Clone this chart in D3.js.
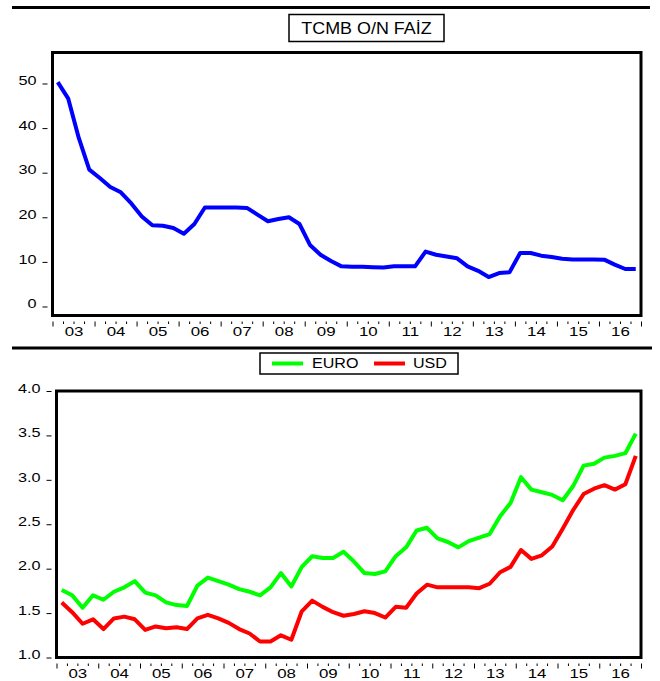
<!DOCTYPE html>
<html>
<head>
<meta charset="utf-8">
<script src="https://cdn.jsdelivr.net/npm/d3@7"></script>
<style>
  body { margin: 0; background: #fff; }
  text { font-family: "Liberation Sans", Arial, sans-serif; fill: #000; }
</style>
</head>
<body>
<div id="chart"></div>
<script>
// TCMB O/N faiz + EURO / USD kurlari, ceyreklik 2003Q1 - 2016Q4

const width = 660, height = 681;

const years = ["03","04","05","06","07","08","09","10","11","12","13","14","15","16"];

const faiz = [50.3, 46.6, 37.8, 30.7, 28.8, 26.8, 25.6, 23.1, 20.2, 18.2, 18.1, 17.6, 16.3, 18.5,
  22.2, 22.2, 22.2, 22.2, 22.1, 20.6, 19.1, 19.6, 20.0, 18.5, 13.8, 11.6, 10.2,
  9.0, 8.9, 8.9, 8.8, 8.75, 9.0, 9.0, 9.0, 12.3, 11.6, 11.2, 10.8, 9.0, 8.0, 6.6, 7.5, 7.7,
  12.0, 12.0, 11.4, 11.1, 10.7, 10.55, 10.55, 10.55, 10.5, 9.4, 8.4, 8.4];

const euro = [1.76, 1.70, 1.56, 1.70, 1.65, 1.74, 1.79, 1.86, 1.73, 1.70, 1.62, 1.59, 1.58, 1.81,
  1.90, 1.86, 1.82, 1.77, 1.74, 1.70, 1.79, 1.95, 1.80, 2.02, 2.14, 2.12,
  2.12, 2.19, 2.08, 1.95, 1.94, 1.97, 2.14, 2.24, 2.43, 2.46, 2.34, 2.30, 2.24, 2.31, 2.35,
  2.39, 2.59, 2.74, 3.03, 2.89, 2.86, 2.83, 2.77, 2.93, 3.16, 3.18, 3.25, 3.27, 3.30, 3.52];

const usd = [1.62, 1.51, 1.38, 1.43, 1.32, 1.44, 1.46, 1.43, 1.31, 1.35, 1.33, 1.34, 1.32, 1.44,
  1.48, 1.44, 1.39, 1.32, 1.27, 1.18, 1.18, 1.25, 1.20, 1.52, 1.64, 1.57,
  1.51, 1.47, 1.49, 1.52, 1.50, 1.45, 1.57, 1.56, 1.72, 1.82, 1.79, 1.79, 1.79, 1.79, 1.78,
  1.83, 1.96, 2.02, 2.21, 2.11, 2.15, 2.25, 2.45, 2.66, 2.84, 2.90, 2.94, 2.89, 2.95, 3.27];

const topTicks = [0, 10, 20, 30, 40, 50];
const botTicks = [1.0, 1.5, 2.0, 2.5, 3.0, 3.5, 4.0];

const svg = d3.select("#chart")
  .append("svg")
  .attr("width", width)
  .attr("height", height)
  .attr("viewBox", [0, 0, width, height]);

// horizontal rules above each panel
svg.append("line").attr("x1", 12).attr("x2", 650).attr("y1", 7.5).attr("y2", 7.5)
  .attr("stroke", "#000").attr("stroke-width", 3);
svg.append("line").attr("x1", 12).attr("x2", 652).attr("y1", 348).attr("y2", 348)
  .attr("stroke", "#000").attr("stroke-width", 3);

// eviews output looks horizontally stretched, so widen glyphs a bit
const ySx = 1.3, xSx = 1.35;

function panel(p) {
  const nq = years.length * 4;
  const x = d3.scaleLinear().domain([0, nq]).range([p.left, p.right]);
  const y = d3.scaleLinear().domain(p.domain).range([p.bottom, p.top]);

  const g = svg.append("g");

  // y axis, offset a bit from frame
  g.append("g")
    .attr("transform", `translate(${p.left - 5},0)`)
    .call(d3.axisLeft(y).tickValues(p.ticks).tickFormat(p.fmt).tickSize(5).tickPadding(6))
    .call(a => a.select(".domain").remove())
    .call(a => a.selectAll("line").attr("stroke", "#000"))
    .call(a => a.selectAll("text")
      .attr("font-size", 12.5).attr("dy", "0.1em")
      .attr("x", -11 / ySx)
      .attr("transform", `scale(${ySx},1)`)
      .attr("font-family", "'Liberation Sans', Arial, sans-serif"));

  // quarter ticks (minor) and year ticks (major)
  const quarters = d3.range(0, nq + 1);
  g.append("g")
    .attr("transform", `translate(0,${p.bottom + 6})`)
    .call(d3.axisBottom(x).tickValues(quarters.filter(q => q % 4 !== 0)).tickSize(2.5).tickFormat(""))
    .call(a => a.select(".domain").remove())
    .call(a => a.selectAll("line").attr("stroke", "#000"));
  g.append("g")
    .attr("transform", `translate(0,${p.bottom + 6})`)
    .call(d3.axisBottom(x).tickValues(quarters.filter(q => q % 4 === 0)).tickSize(5).tickFormat(""))
    .call(a => a.select(".domain").remove())
    .call(a => a.selectAll("line").attr("stroke", "#000"));
  // year labels centred in each year
  g.append("g")
    .attr("transform", `translate(0,${p.bottom + 6})`)
    .call(d3.axisBottom(x).tickValues(years.map((d, i) => i * 4 + 2))
      .tickFormat((d, i) => years[i]).tickSize(0).tickPadding(5.5))
    .call(a => a.select(".domain").remove())
    .call(a => a.selectAll("text")
      .attr("font-size", 12.5)
      .attr("transform", `scale(${xSx},1)`)
      .attr("font-family", "'Liberation Sans', Arial, sans-serif"));

  const line = d3.line()
    .x((d, i) => x(i + 0.5))
    .y(d => y(d));

  p.series.forEach(s => {
    g.append("path")
      .datum(s.values)
      .attr("fill", "none")
      .attr("stroke", s.color)
      .attr("stroke-width", p.lw)
      .attr("stroke-linejoin", "round")
      .attr("d", line);
  });

  // frame
  g.append("rect")
    .attr("x", p.left).attr("y", p.top)
    .attr("width", p.right - p.left).attr("height", p.bottom - p.top)
    .attr("fill", "none").attr("stroke", "#000").attr("stroke-width", 3);
}

panel({
  left: 52.5, right: 641, top: 52.5, bottom: 315.5,
  domain: [-2.02, 56.95], ticks: topTicks, fmt: d3.format("d"), lw: 4,
  series: [{ values: faiz, color: "#0000ff" }]
});

panel({
  left: 56.5, right: 641, top: 391, bottom: 657.5,
  domain: [1, 4], ticks: botTicks, fmt: d3.format(".1f"), lw: 4,
  series: [{ values: euro, color: "#00ff00" }, { values: usd, color: "#ff0000" }]
});

// title box
const tSx = 1.12;
const tb = svg.append("g");
tb.append("rect").attr("x", 289).attr("y", 14.5).attr("width", 155).attr("height", 27)
  .attr("fill", "#fff").attr("stroke", "#000").attr("stroke-width", 1.5);
tb.append("text").attr("x", 366.5 / tSx).attr("y", 34).attr("text-anchor", "middle")
  .attr("transform", `scale(${tSx},1)`)
  .attr("font-size", 16).text("TCMB O/N FAİZ");

// legend
const lSx = 1.15;
const legend = [
  { name: "EURO", color: "#00ff00", lx: 272, tx: 312 },
  { name: "USD", color: "#ff0000", lx: 374, tx: 413 }
];
const lg = svg.append("g");
lg.append("rect").attr("x", 260).attr("y", 353).attr("width", 198).attr("height", 21)
  .attr("fill", "#fff").attr("stroke", "#000").attr("stroke-width", 1.5);
lg.selectAll("line.key")
  .data(legend)
  .join("line")
  .attr("class", "key")
  .attr("x1", d => d.lx).attr("x2", d => d.lx + 31)
  .attr("y1", 363.5).attr("y2", 363.5)
  .attr("stroke", d => d.color).attr("stroke-width", 4);
lg.selectAll("text")
  .data(legend)
  .join("text")
  .attr("x", d => d.tx / lSx).attr("y", 368.5)
  .attr("transform", `scale(${lSx},1)`)
  .attr("font-size", 14)
  .text(d => d.name);
</script>
</body>
</html>
